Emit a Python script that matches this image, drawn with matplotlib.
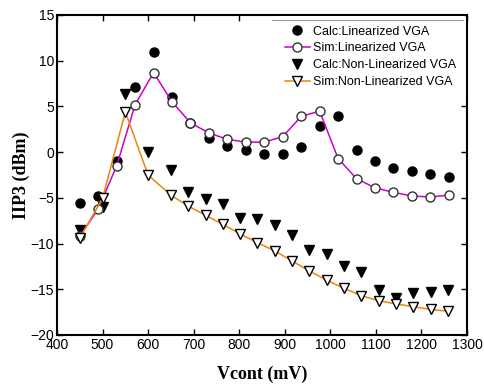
import matplotlib
matplotlib.use("Agg")
import matplotlib.pyplot as plt
from matplotlib.lines import Line2D

# Linearized VGA
x_lin = [450, 490.5, 531, 571.5, 612, 652.5, 693, 733.5, 774, 814.5, 855,
         895.5, 936, 976.5, 1017, 1057.5, 1098, 1138.5, 1179, 1219.5, 1260]
calc_lin = [-5.6, -4.8, -1.0, 7.1, 10.9, 6.0, 3.2, 1.6, 0.7, 0.2, -0.2,
            -0.2, 0.6, 2.9, 3.9, 0.2, -1.0, -1.7, -2.1, -2.4, -2.7]
sim_lin = [-9.2, -6.2, -1.5, 5.2, 8.7, 5.5, 3.2, 2.1, 1.4, 1.1, 1.1,
           1.7, 3.9, 4.5, -0.7, -2.9, -3.9, -4.4, -4.8, -4.9, -4.7]

# Non-linearized VGA
x_non = [450, 500, 550, 600, 650, 688, 726, 764, 802, 840, 878,
         916, 954, 992, 1030, 1068, 1106, 1144, 1182, 1220, 1258]
calc_non = [-8.5, -6.0, 6.4, 0.05, -1.95, -4.4, -5.1, -5.7, -7.2, -7.35, -8.0,
            -9.1, -10.7, -11.1, -12.5, -13.1, -15.1, -16.0, -15.45, -15.3, -15.1]
sim_non = [-9.4, -5.05, 4.4, -2.5, -4.7, -5.9, -6.9, -7.9, -8.95, -9.9, -10.8,
           -11.9, -13.0, -14.0, -14.9, -15.7, -16.25, -16.6, -16.9, -17.2, -17.4]

x_ticks = [400, 500, 600, 700, 800, 900, 1000, 1100, 1200, 1300]
y_ticks = [-20, -15, -10, -5, 0, 5, 10, 15]

plt.rcParams['font.family'] = ['Liberation Sans', 'DejaVu Sans']

fig = plt.figure(figsize=(4.84, 3.86), dpi=100)
ax = fig.add_axes([57/484, 1 - 335/386, 410/484, 320/386])

magenta = '#CC00CC'
orange = '#E8860C'
ms = 6.5

ax.plot(x_lin, calc_lin, linestyle='none', marker='o', color='black',
        markersize=ms, label='Calc:Linearized VGA', zorder=3)
ax.plot(x_lin, sim_lin, color=magenta, linewidth=1.1, marker='o',
        markerfacecolor='white', markeredgecolor='#333333', markeredgewidth=1.0,
        markersize=ms, label='Sim:Linearized VGA', zorder=4)
ax.plot(x_non, calc_non, linestyle='none', marker='v', color='black',
        markersize=ms + 0.8, label='Calc:Non-Linearized VGA', zorder=3)
ax.plot(x_non, sim_non, color=orange, linewidth=1.1, marker='v',
        markerfacecolor='white', markeredgecolor='black', markeredgewidth=1.0,
        markersize=ms + 0.8, label='Sim:Non-Linearized VGA', zorder=4)

ax.set_xlim(400, 1300)
ax.set_ylim(-20, 15)
ax.set_xticks(x_ticks)
ax.set_yticks(y_ticks)
ax.tick_params(direction='in', top=True, right=True, labelsize=10,
               length=4, width=1, pad=2)
for s in ax.spines.values():
    s.set_linewidth(1.5)

ax.set_xlabel('Vcont (mV)', family='Liberation Serif', fontweight='bold',
              fontsize=13, labelpad=10)
ax.set_ylabel('IIP3 (dBm)', family='Liberation Serif', fontweight='bold',
              fontsize=13, labelpad=0)

leg = ax.legend(loc='upper right', fontsize=9, frameon=True,
                handlelength=2.0, handletextpad=0.3, labelspacing=0.38,
                borderaxespad=0.1, borderpad=0.75)
leg.get_frame().set_edgecolor('none')
leg.get_frame().set_facecolor('white')
leg.get_frame().set_alpha(1)
ax.add_line(Line2D([0.525, 0.99], [0.985, 0.985], transform=ax.transAxes,
                   color='#999999', linewidth=0.8, zorder=6))

fig.savefig('out.png', dpi=100)
